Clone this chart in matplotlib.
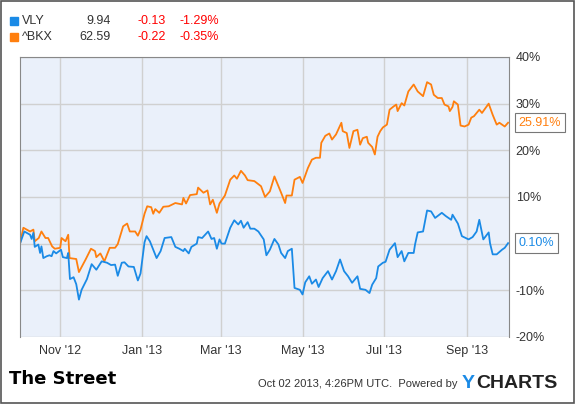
import numpy as np
import matplotlib
matplotlib.use("Agg")
import matplotlib.pyplot as plt
from matplotlib.patches import Rectangle

start = np.datetime64("2012-10-02")

bkx_days = [0, 2.5, 7.5, 10, 11, 14, 16, 19, 21, 24, 26, 30, 31, 34, 36, 37, 42, 44, 49, 53, 56, 57, 60, 63, 67,
            71, 73, 77, 80, 82, 86, 88, 90, 93, 95, 98, 99.5, 101, 104, 107, 111, 116, 121, 122, 124, 127, 132,
            133, 137, 140, 142, 144, 147, 149, 153, 157, 160, 162, 165, 168, 170, 175, 180, 183,
            186.6, 190, 193, 195, 198, 199, 203, 205, 209, 211, 215, 218, 221, 224, 225, 228, 231, 233, 236, 240,
            241, 244, 246, 249, 252, 254, 256, 259, 260, 263, 265, 267, 269, 271, 274, 276, 279, 281, 282, 285,
            287, 290, 294, 297, 301, 304, 307, 309, 312, 315, 317, 320, 321, 323, 324, 327, 329, 332, 335, 337,
            339, 343, 345, 350, 353, 356, 358, 362, 364.5]
bkx_pct = [0, 3.4, 2.6, 3.0, 0.5, 1.2, 2.6, 1.2, 1.2, -0.6, -1.1, -0.9, 1.2, 0.5, 1.9, -3.1, -3.3, -6.1, -3.4,
           -1.1, -1.6, -2.9, -2.1, -3.8, -0.9, -0.9, -0.1, 3.7, 4.3, 2.6, 2.6, 1.7, 3.0, 6.4, 8.0, 7.8, 6.4, 7.4,
           6.6, 7.9, 8.0, 8.7, 8.4, 9.8, 8.6, 10.4, 10.6, 12.0, 10.9, 11.4, 8.4, 9.4, 6.6, 8.6, 10.3, 13.7, 14.6,
           13.9, 15.6, 14.6, 13.6, 13.4, 12.3, 10.0,
           11.2, 14.4, 12.3, 10.9, 8.7, 10.3, 10.3, 13.7, 14.3, 13.0, 16.2, 18.0, 18.4, 18.4, 21.6, 23.1, 23.6,
           22.3, 23.4, 25.9, 24.1, 23.7, 20.5, 24.1, 24.4, 21.2, 22.6, 22.9, 21.6, 20.7, 19.1, 22.9, 24.1, 24.9,
           25.5, 28.7, 29.4, 29.8, 28.4, 30.1, 29.6, 32.6, 34.1, 32.6, 31.6, 34.6, 34.1, 31.9, 31.2, 31.2, 29.8,
           29.4, 28.4, 29.3, 30.5, 29.8, 25.3, 25.1, 25.5, 27.0, 27.3, 28.7, 28.0, 30.0, 27.6, 25.5, 25.9, 25.1,
           25.91]

vly_days = [0, 3.2, 7.5, 8.7, 10, 11, 13.7, 15, 16, 17.4, 20, 22, 23.6, 25, 27, 30.6, 32, 35, 36, 37.3, 40, 42,
            44, 46, 50, 53.5, 57, 61, 65, 68, 71, 73, 76, 78, 81, 85, 88, 90, 93, 94.5, 97, 99.5, 102, 105, 108,
            113, 116, 119, 122, 123, 126, 128, 132, 133, 136, 140.5, 143, 145, 147, 149, 150.5, 153, 157, 160,
            163, 165, 167, 170, 172, 175, 178, 182, 184,
            186.6, 190, 193, 195, 198, 200, 203, 205, 209, 211, 213, 216, 218, 221, 223, 226, 230, 233, 236, 239,
            242, 245, 248, 252, 254, 258, 261, 263, 266, 267.5, 271, 273, 276, 280, 282, 285, 287, 290, 294, 295,
            297, 301, 304, 307, 310, 315, 318, 322, 323, 327, 330, 335, 338, 341, 343, 346, 350, 351, 353, 356,
            360, 362, 364.5]
vly_pct = [0, 2.6, 1.9, 1.0, 2.3, -0.7, -0.2, -2.0, -0.6, -3.1, -2.7, -2.5, -2.7, -1.6, -2.1, -1.3, -2.9, -3.1,
           -2.0, -7.6, -7.2, -8.7, -12.0, -9.9, -7.6, -4.4, -5.6, -3.8, -4.1, -4.6, -4.5, -6.9, -4.1, -4.0, -4.9,
           -5.0, -7.9, -6.4, 0.3, 1.6, 0.5, -1.3, -3.1, -1.6, 1.2, 1.4, -0.7, -1.1, -1.6, -1.1, -2.1, -0.7, 0,
           1.4, 1.2, 2.6, 1.0, 1.2, -1.1, 0.9, 0, 0, 3.4, 5.0, 4.1, 4.9, 3.4, 4.6, 3.2, 3.2, 2.6, 0.9, -2.5,
           -1.3, 1.0, -0.2, -2.0, -3.1, -1.6, -1.1, -9.5, -9.9, -10.9, -8.3, -7.0, -8.6, -7.7, -9.3, -7.4, -5.9,
           -7.7, -5.9, -3.4, -5.9, -7.0, -8.4, -7.0, -9.7, -9.9, -10.6, -8.8, -7.4, -4.9, -4.1, -3.9, -1.3, 0.1,
           -2.9, -1.6, -3.8, -2.0, -2.0, -0.2, 2.4, 2.6, 7.1, 6.9, 5.5, 6.6, 5.9, 5.1, 6.2, 4.3, 1.6, 0.9, 1.4,
           2.6, 5.1, 0.9, 2.4, 0.1, -2.3, -2.3, -1.3, -0.9, 0.10]

legend_rows = [("VLY", "9.94", "-0.13", "-1.29%"), ("^BKX", "62.59", "-0.22", "-0.35%")]
tick_dates = ["2012-11-01", "2013-01-01", "2013-03-01", "2013-05-01", "2013-07-01", "2013-09-01"]
tick_labels = ["Nov '12", "Jan '13", "Mar '13", "May '13", "Jul '13", "Sep '13"]
y_ticks = [-20, -10, 0, 10, 20, 30, 40]

BLUE = "#1a8ae6"
ORANGE = "#ff7f0e"


def to_dates(days):
    return start + (np.array(days) * 24 * 60).astype("timedelta64[m]")


plt.rcParams["font.family"] = ["Liberation Sans", "DejaVu Sans"]
fig = plt.figure(figsize=(5.75, 4.04), dpi=100)
fig.patch.set_facecolor("white")
fig.add_artist(Rectangle((0.001, 0.002), 0.997, 0.996, transform=fig.transFigure,
                         fill=False, edgecolor="#555555", lw=1.2))

ax = fig.add_axes([0.0348, 0.166, 0.850, 0.693])
ax.set_facecolor("#eaf0fa")
ax.plot(to_dates(bkx_days), bkx_pct, color=ORANGE, lw=1.3)
ax.plot(to_dates(vly_days), vly_pct, color=BLUE, lw=1.3)

ax.set_xlim(start, np.datetime64("2013-10-02"))
ax.set_ylim(-20, 40)
ax.set_xticks(np.array(tick_dates, dtype="datetime64[D]"))
ax.set_xticklabels(tick_labels)
ax.set_yticks(y_ticks)
ax.set_yticklabels([f"{v}%" for v in y_ticks])
ax.yaxis.tick_right()
ax.tick_params(length=0, labelsize=9, colors="#333333")
ax.tick_params(axis="y", pad=5)
ax.tick_params(axis="x", pad=6)
ax.grid(True, color="#d0d0d0", lw=1)
for s in ["left", "right", "top", "bottom"]:
    ax.spines[s].set_color("#888888")
ax.spines["bottom"].set_visible(False)

for lab, val, col in [("25.91%", bkx_pct[-1], ORANGE), ("0.10%", vly_pct[-1], BLUE)]:
    ax.annotate(lab, xy=(1.0, val), xycoords=("axes fraction", "data"),
                xytext=(7, 0), textcoords="offset points", va="center", ha="left",
                fontsize=9, color=col, zorder=10, annotation_clip=False,
                bbox=dict(boxstyle="square,pad=0.3", fc="white", ec="#777777", lw=0.8))

for i, (name, price, chg, pct) in enumerate(legend_rows):
    y = 1 - (21 + i * 16) / 404
    col = BLUE if i == 0 else ORANGE
    fig.add_artist(Rectangle((10 / 575, y - 4 / 404), 8 / 575, 8 / 404, transform=fig.transFigure,
                             color=col))
    fig.text(22 / 575, y, name, fontsize=9, va="center", color="#333333")
    fig.text(111 / 575, y, price, fontsize=9, va="center", ha="right", color="#333333")
    fig.text(137 / 575, y, chg, fontsize=9, va="center", color="red")
    fig.text(180 / 575, y, pct, fontsize=9, va="center", color="red")

fig.text(9 / 575, 1 - 379 / 404, "The Street", fontsize=13, fontweight="bold",
         fontfamily="Liberation Sans Narrow", va="center")
fig.text(458 / 575, 1 - 384 / 404, "Oct 02 2013, 4:26PM UTC.  Powered by", fontsize=8,
         va="center", ha="right", color="#333333")
fig.text(462 / 575, 1 - 383 / 404, "Y", fontsize=14, fontweight="bold", va="center", color="#1a8ae6")
fig.text(476 / 575, 1 - 383 / 404, "CHARTS", fontsize=14, fontweight="bold", va="center", color="#222222")

fig.savefig("out.png", dpi=100)
